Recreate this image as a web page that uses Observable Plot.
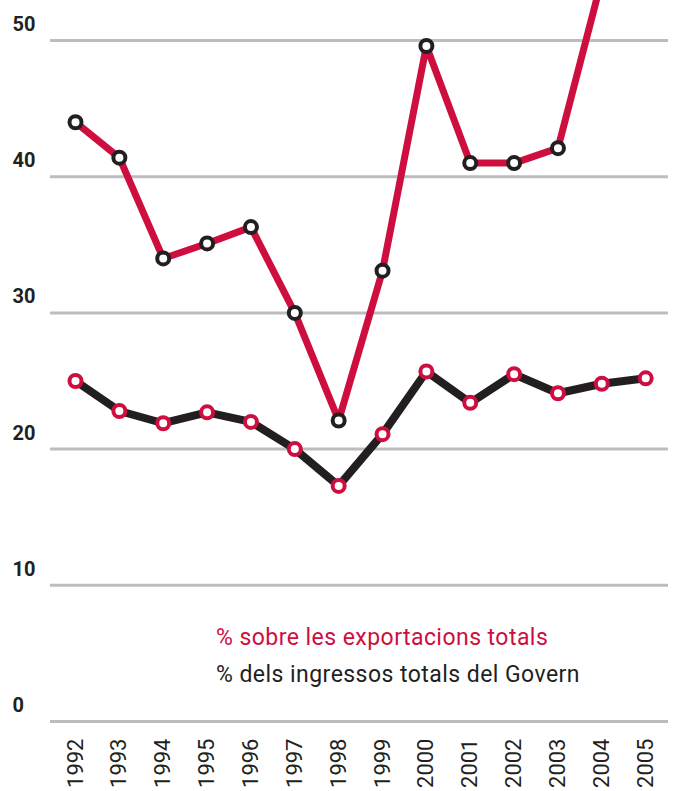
<!DOCTYPE html>
<html>
<head>
<meta charset="utf-8">
<script src="https://cdn.jsdelivr.net/npm/d3@7"></script>
<script src="https://cdn.jsdelivr.net/npm/@observablehq/plot@0.6"></script>
<style>
  html, body { margin: 0; padding: 0; background: #ffffff; }
  #wrap { position: relative; width: 674px; height: 791px; overflow: hidden; background: #fff; }
  #legend { position: absolute; left: 216px; top: 619px; font-family: Roboto, "Noto Sans", sans-serif; font-size: 23px; line-height: 37px; letter-spacing: 0.45px; }
  #legend .exp { color: #cf0e40; }
  #legend .gov { color: #231f20; }
</style>
</head>
<body>
<div id="wrap">
  <div id="legend">
    <div class="exp">% sobre les exportacions totals</div>
    <div class="gov">% dels ingressos totals del Govern</div>
  </div>
</div>
<script>
const years = [1992, 1993, 1994, 1995, 1996, 1997, 1998, 1999, 2000, 2001, 2002, 2003, 2004, 2005];
// % of total exports (2005 value lies above the visible area and is not readable)
const exportYears = [1992, 1993, 1994, 1995, 1996, 1997, 1998, 1999, 2000, 2001, 2002, 2003, 2004];
const exportShare = [44.0, 41.4, 34.0, 35.1, 36.3, 30.0, 22.1, 33.1, 49.6, 41.0, 41.0, 42.1, 54.5];
// % of total government revenue
const revenueShare = [25.0, 22.8, 21.9, 22.7, 22.0, 20.0, 17.3, 21.1, 25.7, 23.4, 25.5, 24.1, 24.8, 25.2];
const yTicks = [0, 10, 20, 30, 40, 50];

const RED = "#cf0e40";
const DARK = "#231f20";

const exportData = exportYears.map((y, i) => ({year: y, value: exportShare[i]}));
const revenueData = years.map((y, i) => ({year: y, value: revenueShare[i]}));

const chart = Plot.plot({
  width: 674,
  height: 791,
  marginTop: 0,
  marginBottom: 70,
  marginLeft: 50,
  marginRight: 6,
  style: {background: "#fff", overflow: "visible"},
  x: {type: "linear", domain: [1991.43, 2005.52], axis: null},
  y: {domain: [0, 52.94], axis: null},
  marks: [
    Plot.ruleY(yTicks, {stroke: "#bdbdbf", strokeWidth: 3}),
    Plot.axisY({ticks: yTicks, label: null, tickSize: 0, tickPadding: 0, textAnchor: "start", dx: -38, dy: -16,
      fontSize: 20, fontWeight: "bold", fill: DARK, fontFamily: "Roboto, sans-serif"}),
    Plot.axisX({ticks: years, label: null, tickFormat: d => String(d), tickSize: 0, tickPadding: 17, tickRotate: -90,
      fontSize: 22, fill: DARK, fontFamily: "Roboto, sans-serif", fontWeight: 400}),
    Plot.line(revenueData, {x: "year", y: "value", stroke: DARK, strokeWidth: 8, strokeLinejoin: "miter", clip: true}),
    Plot.line(exportData, {x: "year", y: "value", stroke: RED, strokeWidth: 7, strokeLinejoin: "miter", clip: true}),
    Plot.dot(revenueData, {x: "year", y: "value", r: 6, fill: "white", stroke: RED, strokeWidth: 4, clip: true}),
    Plot.dot(exportData, {x: "year", y: "value", r: 6, fill: "white", stroke: DARK, strokeWidth: 4, clip: true})
  ]
});
document.getElementById("wrap").insertBefore(chart, document.getElementById("legend"));
</script>
</body>
</html>
